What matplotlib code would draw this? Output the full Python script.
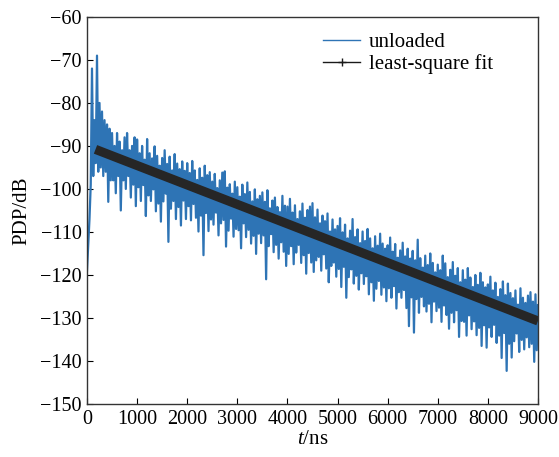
import numpy as np
import matplotlib
matplotlib.use("Agg")
import matplotlib.pyplot as plt
from matplotlib.lines import Line2D

plt.rcParams["font.family"] = ["Liberation Serif", "DejaVu Serif"]
plt.rcParams["mathtext.fontset"] = "custom"
plt.rcParams["mathtext.rm"] = "Liberation Serif"
plt.rcParams["mathtext.it"] = "Liberation Serif:italic"

# Power delay profile samples (dB), one every 25 ns from 0 to 9000 ns
sample_step_ns = 25
pdp_db = [
    -119, -113, -107, -99, -72, -97, -84, -94, -69, -96, -80, -95, -82, -97, -84, -96, -85, -103, -86, -98,
    -87, -98, -90, -101, -87, -97, -89, -105, -91, -98, -88, -100, -87, -97, -91, -102, -90, -99, -88, -104,
    -88.5, -99.6, -91.7, -102.8, -90.0, -99.1, -93.2, -106.3, -88.4, -101.5, -91.7, -102.8, -92.9, -100.1, -90.1, -105.2, -92.3, -103.4, -94.6, -107.6,
    -92.8, -102.9, -91.0, -101.1, -94.2, -112.3, -92.5, -104.6, -95.7, -102.8, -91.9, -107.0, -94.1, -104.2, -95.4, -108.5, -93.6, -102.7, -95.8, -107.0,
    -94.0, -104.0, -96.3, -107.3, -93.5, -103.5, -95.7, -106.7, -97.9, -109.9, -95.2, -106.2, -97.4, -115.4, -94.6, -105.6, -96.8, -109.8, -96.1, -107.1,
    -98.3, -108.3, -96.5, -105.5, -99.8, -110.8, -98.0, -108.0, -96.2, -107.2, -95.9, -113.4, -99.7, -109.7, -98.9, -106.9, -101.1, -111.1, -98.3, -109.3,
    -99.6, -109.6, -101.8, -113.8, -99.0, -108.0, -101.2, -111.2, -98.5, -109.5, -100.7, -112.7, -102.9, -110.9, -100.1, -115.1, -102.4, -110.4, -101.6, -112.6,
    -100.8, -110.8, -103.0, -121.0, -100.3, -113.3, -104.5, -110.5, -102.7, -114.7, -102.0, -113.0, -104.2, -116.2, -105.4, -112.4, -101.6, -114.6, -103.9, -117.9,
    -104.1, -115.1, -102.3, -113.3, -105.5, -117.5, -103.8, -114.8, -107.0, -113.0, -105.2, -117.2, -103.4, -115.4, -106.7, -119.7, -104.9, -114.9, -104.1, -117.1,
    -103.3, -119.3, -106.6, -116.6, -104.8, -115.8, -108.0, -119.0, -106.2, -115.2, -107.5, -118.5, -105.7, -121.7, -109.9, -117.9, -107.1, -117.1, -109.4, -120.4,
    -108.6, -118.6, -106.8, -122.8, -110.1, -118.1, -108.3, -125.3, -111.5, -120.5, -109.7, -118.7, -107.0, -122.0, -111.2, -120.2, -109.4, -123.4, -112.6, -119.6,
    -109.9, -122.1, -112.1, -120.3, -109.3, -124.5, -111.5, -121.7, -113.8, -126.0, -111.0, -123.2, -113.2, -121.4, -110.4, -124.6, -112.7, -122.9, -113.9, -126.1,
    -113.1, -123.1, -111.3, -125.3, -114.6, -122.6, -112.8, -127.8, -116.0, -124.0, -114.3, -125.3, -112.5, -123.5, -115.7, -127.7, -113.9, -131.9, -116.2, -125.2,
    -114.4, -133.4, -116.6, -125.6, -111.8, -128.8, -116.1, -125.1, -118.3, -127.3, -115.5, -128.5, -117.7, -126.7, -115.0, -131.0, -117.2, -126.2, -119.4, -128.4,
    -117.6, -127.6, -118.9, -130.9, -115.5, -127.1, -117.3, -129.3, -120.5, -132.5, -118.8, -128.8, -117.0, -131.0, -120.2, -128.2, -118.4, -134.4, -121.7, -130.7,
    -118.9, -130.9, -121.1, -134.1, -118.4, -129.4, -120.6, -132.6, -122.8, -130.8, -120.0, -134.0, -122.3, -132.3, -119.5, -136.5, -121.7, -131.7, -122.9, -136.9,
    -122.2, -132.2, -120.4, -134.4, -123.6, -131.6, -121.8, -135.8, -125.1, -134.1, -123.3, -139.3, -121.5, -133.5, -124.7, -142.3, -122.0, -136.0, -124.2, -139.2,
    -125.4, -135.4, -123.6, -133.6, -126.9, -137.9, -123.1, -135.1, -125.3, -137.3, -126.5, -134.5, -124.8, -136.8, -124.0, -136.0, -126.2, -140.2, -124.5, -137.5,
    -127,
]

# Least-square fit line end points
fit_t_ns = [170, 9000]
fit_db = [-90.8, -130.7]

x_ticks = [0, 1000, 2000, 3000, 4000, 5000, 6000, 7000, 8000, 9000]
y_ticks = [-150, -140, -130, -120, -110, -100, -90, -80, -70, -60]

t_ns = np.arange(len(pdp_db)) * sample_step_ns

fig = plt.figure(figsize=(5.59, 4.57), dpi=100)
ax = fig.add_axes([0.1556, 0.116, 0.8068, 0.847])

ax.plot(t_ns, pdp_db, color="#2e74b5", lw=1.6, label="unloaded")
ax.plot(fit_t_ns, fit_db, color="#262626", lw=6.6, solid_capstyle="butt")

ax.set_xlim(0, 9000)
ax.set_ylim(-150, -60)
ax.set_xticks(x_ticks)
ax.set_yticks(y_ticks)
ax.tick_params(direction="in", length=4, width=0.8, labelsize=14.5, pad=4)
for s in ax.spines.values():
    s.set_linewidth(1.0)
    s.set_color("#333333")

ax.set_xlabel("$t$/ns", fontsize=15, labelpad=1)
ax.set_ylabel("PDP/dB", fontsize=15, labelpad=6)

handles = [
    Line2D([], [], color="#2e74b5", lw=1.0),
    Line2D([], [], color="#1a1a1a", lw=1.0, marker="+", markersize=6, markeredgewidth=1.0),
]
ax.legend(handles, ["unloaded", "least-square fit"], loc="upper right",
          bbox_to_anchor=(0.932, 0.997), frameon=False, fontsize=15,
          handlelength=1.8, handletextpad=0.4, labelspacing=0.1, borderaxespad=0.3)

fig.savefig("out.png", dpi=100)
